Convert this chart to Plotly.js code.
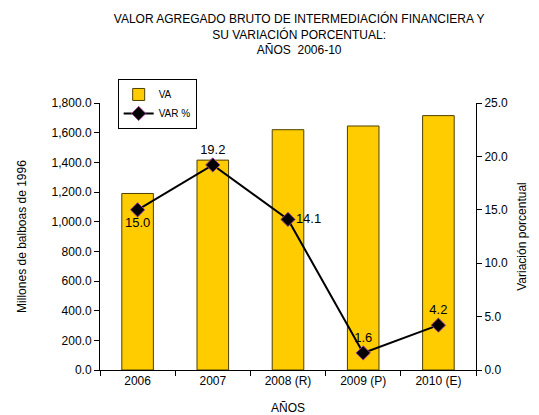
<!DOCTYPE html>
<html><head><meta charset="utf-8">
<script src="https://cdn.plot.ly/plotly-3.0.1.min.js"></script>
<style>body{margin:0;background:#fff}#c{width:539px;height:415px}</style>
</head><body><div id="c"></div>
<script>
var years = ['2006', '2007', '2008 (R)', '2009 (P)', '2010 (E)'];
var va = [1190, 1415, 1620, 1645, 1715];
var varPct = [15.0, 19.2, 14.1, 1.6, 4.2];
var varLabels = ['15.0', '19.2', '14.1', '1.6', '4.2'];
var labelPos = ['bottom center', 'top center', 'middle right', 'top center', 'top center'];

var font = {family: 'Liberation Sans, Arial, sans-serif', size: 12, color: '#000'};
var data = [
  {type: 'bar', x: years, y: va, name: 'VA', width: 0.42,
   marker: {color: '#FFCC00', line: {color: '#4d4000', width: 1}}},
  {type: 'scatter', mode: 'lines+markers+text', x: years, y: varPct, yaxis: 'y2', name: 'VAR %',
   line: {color: '#000', width: 2},
   marker: {symbol: 'diamond', size: 11, color: '#000', line: {color: '#a0409a', width: 1}},
   text: varLabels, textposition: labelPos, textfont: {size: 13, color: '#000'}}
];
var layout = {
  width: 539, height: 415,
  margin: {l: 100, r: 63, t: 103, b: 45},
  paper_bgcolor: '#fff', plot_bgcolor: '#fff',
  font: font,
  showlegend: true,
  legend: {x: 0.047, y: 1.09, xanchor: 'left', yanchor: 'top', bordercolor: '#000', borderwidth: 1,
           bgcolor: '#fff', font: {size: 10}, tracegroupgap: 2},
  title: {text: 'VALOR AGREGADO BRUTO DE INTERMEDIACIÓN FINANCIERA Y<br>SU VARIACIÓN PORCENTUAL:<br>AÑOS  2006-10',
          x: 0.555, xanchor: 'center', y: 0.944, yanchor: 'middle', font: {size: 12}},
  xaxis: {type: 'category', showline: true, linecolor: '#000', linewidth: 1,
          ticks: 'outside', tickson: 'boundaries', ticklen: 5, tickcolor: '#000',
          tickfont: {size: 12}, title: {text: 'AÑOS', font: {size: 12}, standoff: 16}},
  yaxis: {range: [0, 1800], dtick: 200, tickformat: ',.1f', showgrid: false, zeroline: false,
          showline: true, linecolor: '#000', ticks: 'outside', ticklen: 5, tickcolor: '#000',
          tickfont: {size: 12}, title: {text: 'Millones de balboas de 1996', font: {size: 12}, standoff: 22}},
  yaxis2: {range: [0, 25], dtick: 5, tickformat: '.1f', overlaying: 'y', side: 'right',
           showgrid: false, zeroline: false, showline: true, linecolor: '#000',
           ticks: 'outside', ticklen: 5, tickcolor: '#000', tickfont: {size: 12},
           title: {text: 'Variación porcentual', font: {size: 12}, standoff: 10}}
};
Plotly.newPlot('c', data, layout, {displayModeBar: false, staticPlot: true});
</script></body></html>
